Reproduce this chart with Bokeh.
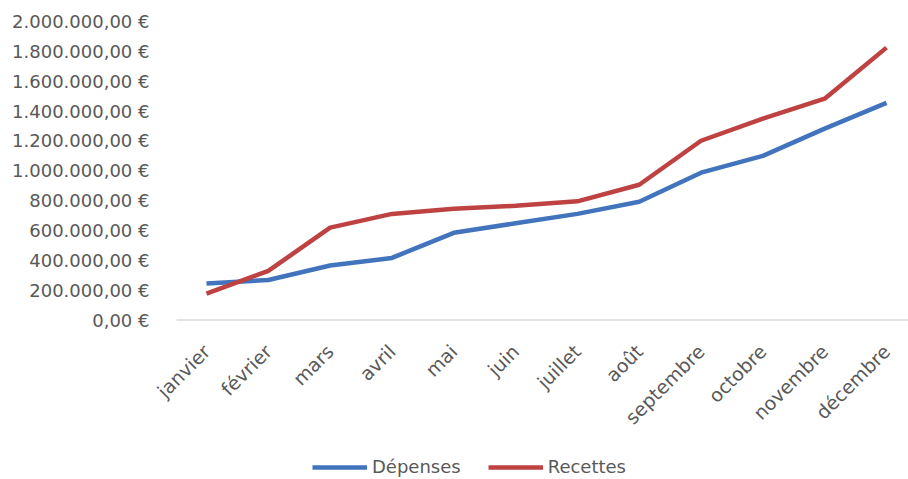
import math
from bokeh.plotting import figure
from bokeh.models import Range1d, FixedTicker, Legend, LegendItem, ColumnDataSource
from bokeh.core.properties import value
from bokeh.embed import file_html
from bokeh.resources import INLINE

months = ["janvier", "février", "mars", "avril", "mai", "juin", "juillet",
          "août", "septembre", "octobre", "novembre", "décembre"]
depenses = [245000, 268000, 365000, 416000, 584000, 648000, 711000,
            792000, 987000, 1100000, 1282000, 1455000]
recettes = [177000, 329000, 619000, 711000, 745000, 765000, 795000,
            906000, 1201000, 1349000, 1483000, 1825000]
y_ticks = [0, 200000, 400000, 600000, 800000, 1000000, 1200000, 1400000,
           1600000, 1800000, 2000000]
y_tick_labels = ["0,00 €", "200.000,00 €", "400.000,00 €", "600.000,00 €",
                 "800.000,00 €", "1.000.000,00 €", "1.200.000,00 €",
                 "1.400.000,00 €", "1.600.000,00 €", "1.800.000,00 €",
                 "2.000.000,00 €"]

x_pos = list(range(len(months)))
y_base = [0] * len(months)

FONT = "DejaVu Sans"
TXT = "#595959"

X_LO, X_HI = -0.825, 11.356      # view extent (frame)
AXIS_LO = -0.4853                # where the category axis line begins

p = figure(width=908, height=479,
           x_range=Range1d(X_LO, X_HI),
           y_range=Range1d(-1068676, 2000000),
           output_backend="svg", toolbar_location=None,
           min_border_left=155, min_border_right=0,
           min_border_top=21, min_border_bottom=0)
p.outline_line_color = None
p.xgrid.grid_line_color = None
p.ygrid.grid_line_color = None
p.xaxis.visible = False

# category axis line
p.segment(x0=[AXIS_LO], y0=[0], x1=[X_HI], y1=[0], line_color="#D9D9D9", line_width=1.5)

r1 = p.line(x_pos, depenses, line_color="#4274BE", line_width=4.5)
r2 = p.line(x_pos, recettes, line_color="#BE4242", line_width=4.5)

src = ColumnDataSource(dict(x=x_pos, y=y_base, t=months))
p.text(x="x", y="y", text="t", source=src, angle=math.pi / 4,
       text_align="right", text_baseline="middle", x_offset=0, y_offset=28,
       text_font=value(FONT), text_font_size=value("19px"), text_color=TXT)

p.yaxis.ticker = FixedTicker(ticks=y_ticks)
p.yaxis.major_label_overrides = {t: l for t, l in zip(y_ticks, y_tick_labels)}
p.yaxis.axis_line_color = None
p.yaxis.major_tick_line_color = None
p.yaxis.minor_tick_line_color = None
p.yaxis.major_label_text_font = FONT
p.yaxis.major_label_text_font_size = "18px"
p.yaxis.major_label_text_color = TXT
p.yaxis.major_label_standoff = 0

legend = Legend(items=[LegendItem(label="Dépenses", renderers=[r1]),
                       LegendItem(label="Recettes", renderers=[r2])],
                location=(157, 2), orientation="horizontal",
                glyph_width=55, label_standoff=5, spacing=27,
                padding=0, margin=0, border_line_color=None,
                background_fill_alpha=0,
                label_text_font=FONT, label_text_font_size="18px",
                label_text_color=TXT)
p.add_layout(legend, "center")

open("out.html", "w").write(file_html(p, INLINE))
